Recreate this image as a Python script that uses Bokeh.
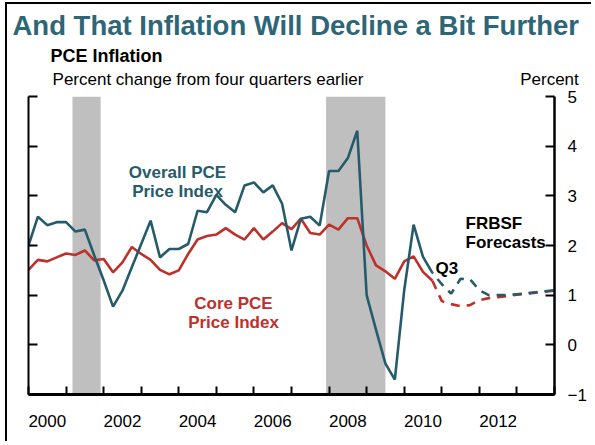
from bokeh.plotting import figure
from bokeh.models import Range1d, LinearAxis, FixedTicker, Label, Title
from bokeh.embed import file_html
from bokeh.resources import INLINE

# ---------------- data ----------------
overall_hist = [2.00, 2.58, 2.41, 2.47, 2.47, 2.28, 2.32, 1.80, 1.30, 0.77,
                1.09, 1.56, 2.03, 2.50, 1.76, 1.93, 1.93, 2.03, 2.70, 2.67,
                3.02, 2.82, 2.67, 3.21, 3.27, 3.07, 3.21, 2.84, 1.90, 2.54,
                2.58, 2.40, 3.50, 3.50, 3.76, 4.31, 1.00, 0.30, -0.38, -0.70,
                1.10, 2.42, 1.77, 1.45]
core_hist = [1.51, 1.71, 1.68, 1.76, 1.84, 1.81, 1.90, 1.70, 1.73, 1.46,
             1.66, 1.97, 1.83, 1.71, 1.51, 1.42, 1.50, 1.83, 2.12, 2.19,
             2.22, 2.35, 2.22, 2.12, 2.35, 2.12, 2.28, 2.45, 2.33, 2.54,
             2.25, 2.22, 2.42, 2.32, 2.55, 2.55, 2.00, 1.60, 1.48, 1.33,
             1.68, 1.78, 1.47, 1.29]
overall_fc = [1.45, 1.22, 1.03, 1.33, 1.32, 1.10, 1.00, 1.00, 1.00, 1.02,
              1.04, 1.06, 1.08, 1.10]
core_fc = [1.29, 0.88, 0.82, 0.78, 0.80, 0.90, 0.94, 0.96, 0.98, 1.01,
           1.03, 1.05, 1.07, 1.09]
hist_x = [2000.0 + 0.25 * i for i in range(len(overall_hist))]
fc_x = [2010.75 + 0.25 * i for i in range(len(overall_fc))]

recession_start = [2001.17, 2007.92]
recession_end = [2001.92, 2009.50]

x_label_years = [2000, 2002, 2004, 2006, 2008, 2010, 2012]
x_year_bounds = list(range(2000, 2015))
y_ticks = [-1, 0, 1, 2, 3, 4, 5]

# ---------------- style ----------------
BLUE = "#255B6B"
RED = "#BE312B"
TEAL_TITLE = "#2C6677"
GRAY = "#BFBFBF"
FONT = "Liberation Sans"

# canvas origin on the page (after CSS margin), frame edges on the page
OX, OY = 7, 4
F_LEFT, F_RIGHT, F_TOP, F_BOTTOM = 28, 554, 96, 394
W, H = 586, 439

p = figure(width=W, height=H, x_range=Range1d(2000, 2014), y_range=Range1d(-1, 5),
           output_backend="svg", toolbar_location=None,
           min_border_left=F_LEFT - OX, min_border_right=W - (F_RIGHT - OX),
           min_border_top=F_TOP - OY, min_border_bottom=H - (F_BOTTOM - OY))
p.styles = {"border-left": "2px solid black", "border-top": "2px solid black",
            "margin-left": f"{OX - 2}px", "margin-top": f"{OY - 2}px"}
p.outline_line_color = None
p.xgrid.visible = False
p.ygrid.visible = False
p.background_fill_color = "white"
p.title.visible = False

# recessions
p.quad(left=recession_start, right=recession_end, bottom=-1, top=5,
       fill_color=GRAY, line_color=None)

# lines
p.line(hist_x, core_hist, line_color=RED, line_width=2.6)
p.line(hist_x, overall_hist, line_color=BLUE, line_width=2.6)
p.line(fc_x, core_fc, line_color=RED, line_width=2.6, line_dash="9 7")
p.line(fc_x, overall_fc, line_color=BLUE, line_width=2.6, line_dash="9 7",
       line_dash_offset=8)

# bottom axis
xa = p.xaxis[0]
xa.ticker = FixedTicker(ticks=[y + 0.5 for y in x_label_years], minor_ticks=x_year_bounds)
xa.major_label_overrides = {y + 0.5: str(y) for y in x_label_years}
xa.major_tick_line_color = None
xa.major_tick_in = 0
xa.major_tick_out = 0
xa.minor_tick_in = 8
xa.minor_tick_out = 0
xa.minor_tick_line_color = "black"
xa.minor_tick_line_width = 2
xa.axis_line_width = 3
xa.axis_line_color = "black"
xa.major_label_standoff = 20
xa.major_label_text_font_size = "17px"
xa.major_label_text_font = FONT
xa.major_label_text_color = "black"

# left axis (no labels)
ya = p.yaxis[0]
ya.ticker = FixedTicker(ticks=y_ticks)
ya.major_tick_in = 9
ya.major_tick_out = 0
ya.major_tick_line_width = 2
ya.minor_tick_line_color = None
ya.axis_line_width = 2
ya.major_label_text_color = None
ya.major_label_text_font_size = "1px"

# right axis
ra = LinearAxis(ticker=FixedTicker(ticks=y_ticks))
ra.major_tick_in = 9
ra.major_tick_out = 0
ra.major_tick_line_width = 2
ra.minor_tick_line_color = None
ra.axis_line_width = 2.5
ra.major_label_standoff = 13
ra.major_label_text_font_size = "17px"
ra.major_label_text_font = FONT
ra.major_label_text_color = "black"
ra.major_label_text_align = "left"
p.add_layout(ra, "right")

# helpers: page pixel -> data
def dx(px):
    return 2000 + (px - F_LEFT) * 14 / (F_RIGHT - F_LEFT)

def dy(py):
    return 5 - (py - F_TOP) * 6 / (F_BOTTOM - F_TOP)

# header row just above the frame: subtitle (left) and unit (right)
sub_text = "Percent change from four quarters earlier"
unit_text = "Percent"
sub_x = dx(207.5)
unit_x = dx(549)
ta = LinearAxis(ticker=FixedTicker(ticks=[sub_x, unit_x]))
ta.major_label_overrides = {sub_x: sub_text, unit_x: unit_text}
ta.axis_line_color = None
ta.major_tick_line_color = None
ta.minor_tick_line_color = None
ta.major_tick_in = 0
ta.major_tick_out = 0
ta.major_label_standoff = 8
ta.major_label_text_font_size = "17px"
ta.major_label_text_font = FONT
ta.major_label_text_color = "black"
p.add_layout(ta, "above")

p.add_layout(Title(text="PCE Inflation", align="left", offset=50 - F_LEFT,
                   standoff=1, text_font=FONT, text_font_size="18px",
                   text_font_style="bold", text_color="black"), "above")
p.add_layout(Title(text="And That Inflation Will Decline a Bit Further", align="left",
                   offset=12 - F_LEFT, standoff=6, text_font=FONT,
                   text_font_size="27.5px", text_font_style="bold",
                   text_color=TEAL_TITLE), "above")

def lab(text, px, py, size, color="black", bold=False, align="left"):
    p.add_layout(Label(x=dx(px), y=dy(py), text=text, text_font=FONT,
                       text_font_size=f"{size}px", text_color=color,
                       text_font_style="bold" if bold else "normal",
                       text_align=align, text_baseline="alphabetic"))

lab("Overall PCE", 177, 172, 17, BLUE, True, "center")
lab("Price Index", 177, 191, 17, BLUE, True, "center")
lab("Core PCE", 233, 303, 17, RED, True, "center")
lab("Price Index", 233, 322, 17, RED, True, "center")
lab("FRBSF", 465, 223, 17, "black", True)
lab("Forecasts", 465, 242, 17, "black", True)
lab("Q3", 435, 268, 17, "black", True)

open("out.html", "w").write(file_html(p, INLINE))
